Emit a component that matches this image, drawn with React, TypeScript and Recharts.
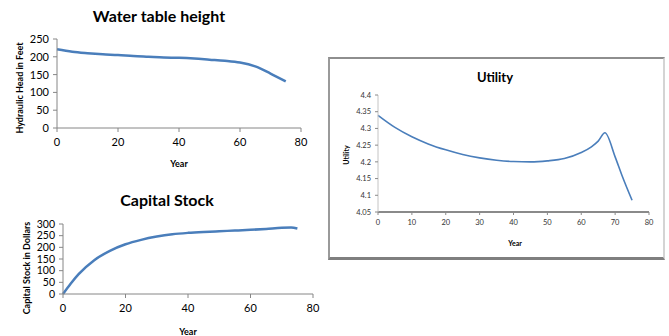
import React from 'react';
import { LineChart, Line, XAxis, YAxis } from 'recharts';

const waterYears = [0, 5, 10, 15, 20, 25, 30, 35, 40, 45, 50, 55, 60, 65, 70, 75];
const waterHead = [221, 214, 210, 207, 205, 202, 200, 198, 197, 195, 192, 189, 184, 173, 153, 131];
const waterXTicks = [0, 20, 40, 60, 80];
const waterYTicks = [0, 50, 100, 150, 200, 250];

const capitalYears = [0, 2.5, 5, 10, 15, 20, 25, 30, 35, 40, 45, 50, 55, 60, 65, 70, 73, 75];
const capitalStock = [0, 45, 85, 145, 185, 213, 232, 246, 256, 262, 266, 269, 272, 275, 279, 284, 285, 281];
const capitalXTicks = [0, 20, 40, 60, 80];
const capitalYTicks = [0, 50, 100, 150, 200, 250, 300];

const utilityYears = [0, 5, 10, 15, 20, 25, 30, 35, 40, 45, 50, 55, 60, 63, 65, 67, 70, 72, 75];
const utilityValues = [4.339, 4.303, 4.275, 4.253, 4.236, 4.222, 4.212, 4.205, 4.201, 4.2, 4.203, 4.21, 4.228, 4.245, 4.262, 4.287, 4.215, 4.16, 4.085];
const utilityXTicks = [0, 10, 20, 30, 40, 50, 60, 70, 80];
const utilityYTicks = [4.05, 4.1, 4.15, 4.2, 4.25, 4.3, 4.35, 4.4];

const waterData = waterYears.map((year, i) => ({ year, value: waterHead[i] }));
const capitalData = capitalYears.map((year, i) => ({ year, value: capitalStock[i] }));
const utilityData = utilityYears.map((year, i) => ({ year, value: utilityValues[i] }));

const font = 'Lato, "Open Sans", sans-serif';
const blue = '#4a7ebb';
const axisGray = '#868686';

function Text({ x, y, size, children, rotate = false, bold = true }: any) {
  return (
    <div
      style={{
        position: 'absolute',
        left: x,
        top: y,
        transform: `translate(-50%, -50%)${rotate ? ' rotate(-90deg)' : ''}`,
        fontSize: size,
        fontWeight: bold ? 700 : 400,
        whiteSpace: 'nowrap',
        color: '#000',
        lineHeight: 1,
      }}
    >
      {children}
    </div>
  );
}

export default function App() {
  const tick = { fontSize: 11, fill: '#000' };
  const smallTick = { fontSize: 7.5, fill: '#333' };
  return (
    <div style={{ position: 'absolute', left: 0, top: 0, width: 669, height: 336, background: '#fff', fontFamily: font, overflow: 'hidden' }}>
      {/* Water table height */}
      <div style={{ position: 'absolute', left: 0, top: 0 }}>
        <LineChart width={320} height={170} data={waterData} margin={{ top: 39, right: 19, bottom: 22, left: 17 }}>
          <XAxis
            dataKey="year"
            type="number"
            domain={[0, 80]}
            ticks={waterXTicks}
            interval={0}
            height={20}
            tick={tick}
            tickSize={4}
            tickMargin={6}
            axisLine={{ stroke: axisGray }}
            tickLine={{ stroke: axisGray }}
          />
          <YAxis
            domain={[0, 250]}
            ticks={waterYTicks}
            interval={0}
            width={40}
            tick={tick}
            tickSize={4}
            tickMargin={4}
            axisLine={{ stroke: axisGray }}
            tickLine={{ stroke: axisGray }}
          />
          <Line type="monotone" dataKey="value" stroke={blue} strokeWidth={2.5} dot={false} isAnimationActive={false} />
        </LineChart>
      </div>
      <Text x={159} y={16} size={16}>Water table height</Text>
      <Text x={179} y={163} size={9}>Year</Text>
      <Text x={19} y={88} size={9} rotate>Hydraulic Head in Feet</Text>

      {/* Capital Stock */}
      <div style={{ position: 'absolute', left: 0, top: 185 }}>
        <LineChart width={330} height={151} data={capitalData} margin={{ top: 39, right: 17, bottom: 22, left: 23 }}>
          <XAxis
            dataKey="year"
            type="number"
            domain={[0, 80]}
            ticks={capitalXTicks}
            interval={0}
            height={20}
            tick={tick}
            tickSize={4}
            tickMargin={6}
            axisLine={{ stroke: axisGray }}
            tickLine={{ stroke: axisGray }}
          />
          <YAxis
            domain={[0, 300]}
            ticks={capitalYTicks}
            interval={0}
            width={40}
            tick={{ fontSize: 10.5, fill: '#000' }}
            tickSize={4}
            tickMargin={4}
            axisLine={{ stroke: axisGray }}
            tickLine={{ stroke: axisGray }}
          />
          <Line type="monotone" dataKey="value" stroke={blue} strokeWidth={2.5} dot={false} isAnimationActive={false} />
        </LineChart>
      </div>
      <Text x={167} y={200} size={16}>Capital Stock</Text>
      <Text x={188} y={331} size={9}>Year</Text>
      <Text x={26} y={268} size={9} rotate>Capital Stock in Dollars</Text>

      {/* Utility */}
      <div
        style={{
          position: 'absolute',
          left: 328,
          top: 57,
          width: 337,
          height: 203,
          boxSizing: 'border-box',
          borderTop: '2px solid #8e8e8e',
          borderLeft: '2px solid #9a9a9a',
          borderRight: '2px solid #d4d4d4',
          borderBottom: '3px solid #7f7f7f',
        }}
      />
      <div style={{ position: 'absolute', left: 330, top: 58 }}>
        <LineChart width={334} height={200} data={utilityData} margin={{ top: 37, right: 15, bottom: 26, left: 18 }}>
          <XAxis
            dataKey="year"
            type="number"
            domain={[0, 80]}
            ticks={utilityXTicks}
            interval={0}
            height={20}
            tick={smallTick}
            tickSize={3}
            tickMargin={5}
            axisLine={{ stroke: '#8a8a8a', strokeWidth: 2 }}
            tickLine={{ stroke: '#8a8a8a' }}
          />
          <YAxis
            domain={[4.05, 4.4]}
            ticks={utilityYTicks}
            interval={0}
            width={30}
            tick={smallTick}
            tickSize={3}
            tickMargin={4}
            axisLine={{ stroke: '#c4c4c4' }}
            tickLine={{ stroke: '#8a8a8a' }}
          />
          <Line type="monotone" dataKey="value" stroke={blue} strokeWidth={1.6} dot={false} isAnimationActive={false} />
        </LineChart>
      </div>
      <Text x={495} y={77} size={13}>Utility</Text>
      <Text x={515} y={243} size={7}>Year</Text>
      <Text x={346} y={155} size={7} rotate>Utility</Text>
    </div>
  );
}
